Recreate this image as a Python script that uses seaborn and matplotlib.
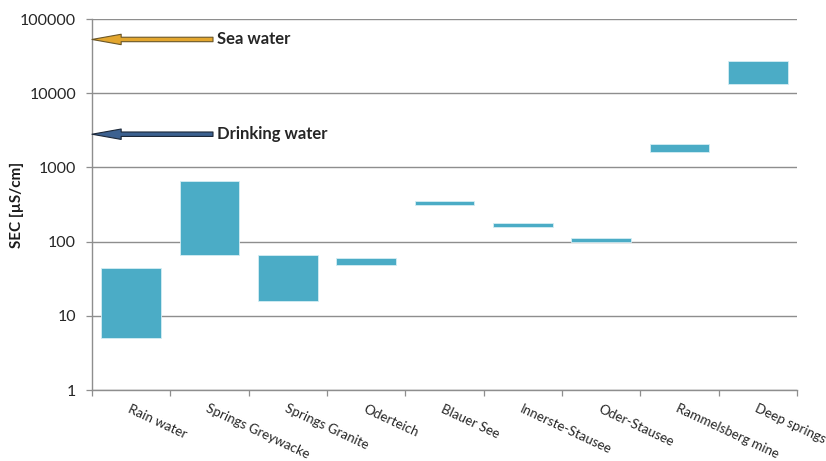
import matplotlib
matplotlib.use("Agg")
import matplotlib.pyplot as plt
import numpy as np
import pandas as pd
import seaborn as sns

# Specific electrical conductance ranges per sampling site (µS/cm)
sites = ["Rain water", "Springs Greywacke", "Springs Granite", "Oderteich",
         "Blauer See", "Innerste-Stausee", "Oder-Stausee", "Rammelsberg mine",
         "Deep springs"]
sec_low = [5, 65, 16, 48, 310, 158, 98, 1600, 13500]
sec_high = [44, 650, 66, 60, 355, 180, 111, 2050, 27000]

# Reference conductances marked by arrows on the axis
ref_names = ["Sea water", "Drinking water"]
ref_sec = [53000, 2800]
ref_fill = ["#E3A62E", "#3C6190"]
ref_edge = ["#6B5728", "#1C2838"]

y_ticks = [1, 10, 100, 1000, 10000, 100000]

sns.set_theme(style="white")
plt.rcParams["font.family"] = ["Lato", "DejaVu Sans"]

W, H = 826, 461
fig = plt.figure(figsize=(W / 100, H / 100), dpi=100)
ax = fig.add_axes([92 / W, 1 - 390 / H, (797 - 92) / W, (390 - 19) / H])
ax.set_yscale("log")

df = pd.DataFrame({"site": sites, "low": sec_low, "high": sec_high})
df["span"] = df["high"] - df["low"]

sns.barplot(data=df, x="site", y="span", order=sites,
            bottom=df["low"].to_numpy(), color="#4BACC6", saturation=1,
            width=0.76, edgecolor="#D4EDF3", linewidth=0.6, ax=ax, zorder=3)

ax.set_xlim(-0.5, len(sites) - 0.5)
ax.set_ylim(1, 100000)

grid_col = "#8E8E8E"
ax.set_yticks(y_ticks, [str(v) for v in y_ticks])
ax.yaxis.set_minor_locator(matplotlib.ticker.NullLocator())
ax.yaxis.grid(True, color=grid_col, linewidth=1.0, zorder=0)
ax.xaxis.grid(False)
ax.set_axisbelow(True)

# category boundaries as tick marks, names on centred minor ticks
ax.set_xticks(np.arange(-0.5, len(sites)), [""] * (len(sites) + 1))
ax.set_xticks(np.arange(len(sites)), sites, minor=True)
ax.tick_params(axis="x", which="major", direction="out", length=4.5,
               width=0.9, color=grid_col, bottom=True)
ax.tick_params(axis="x", which="minor", length=0, pad=9, labelsize=9.6,
               labelcolor="#262626")
for lbl in ax.get_xticklabels(minor=True):
    lbl.set_rotation(-25)
    lbl.set_ha("left")
    lbl.set_va("top")
    lbl.set_rotation_mode("anchor")

ax.tick_params(axis="y", direction="out", length=4.5, width=0.9,
               color=grid_col, left=True, pad=7, labelsize=11.5,
               labelcolor="#262626")

for side in ["top", "right"]:
    ax.spines[side].set_visible(False)
for side in ["left", "bottom"]:
    ax.spines[side].set_color(grid_col)
    ax.spines[side].set_linewidth(1.0)

ax.set_xlabel("")
ax.set_ylabel("SEC [µS/cm]", fontweight="bold", fontsize=11,
              color="#1A1A1A")
ax.yaxis.set_label_coords((17 - 92) / (797 - 92), 0.5)
ax.yaxis.label.set_va("center")

# arrows pointing to the axis for the reference waters
x_tail = -0.5 + (213 - 92) / ((797 - 92) / len(sites))
for name, val, fc, ec in zip(ref_names, ref_sec, ref_fill, ref_edge):
    ax.annotate("", xy=(-0.5, val), xytext=(x_tail, val),
                arrowprops=dict(arrowstyle="simple,head_length=2.1,head_width=0.75,tail_width=0.32",
                                mutation_scale=10, fc=fc, ec=ec, lw=0.8,
                                shrinkA=0, shrinkB=0),
                zorder=5, annotation_clip=False)
    ax.text(x_tail + 0.05, val, name, fontweight="bold", fontsize=12,
            va="center", ha="left", color="#262626", zorder=5)

fig.savefig("out.png", dpi=100)
